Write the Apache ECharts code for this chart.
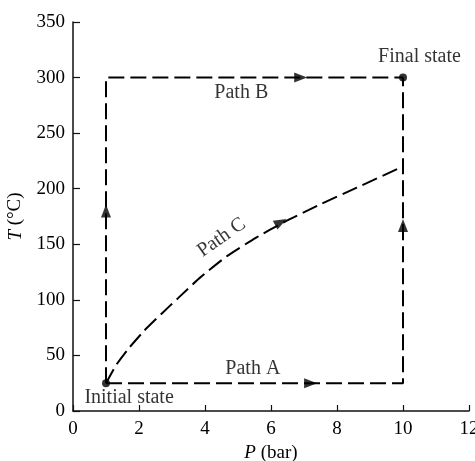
<!DOCTYPE html>
<html>
<head>
<meta charset="utf-8">
<script src="https://cdn.jsdelivr.net/npm/echarts@6/dist/echarts.min.js"></script>
<style>html,body{margin:0;padding:0;background:#fff}#c{width:475px;height:461px}</style>
</head>
<body>
<div id="c"></div>
<script>
// Axis ticks
const xTicks = [0, 2, 4, 6, 8, 10, 12];
const yTicks = [0, 50, 100, 150, 200, 250, 300, 350];

// States
const initialState = [1, 25];
const finalState = [10, 300];

// Path A: constant T, then constant P
const pathA = [[1, 25], [10, 25], [10, 300]];
// Path B: constant P, then constant T
const pathB = [[1, 25], [1, 300], [10, 300]];
// Path C: curved path
const pathC = [[1, 25], [1.3, 41], [1.65, 55], [2.15, 72], [2.7, 88], [3.2, 102],
               [3.85, 120], [4.65, 139], [5.55, 156], [6.4, 170], [7.5, 186],
               [8.6, 201], [10, 220]];

// Direction arrows: [P, T, direction angle in degrees]
const arrows = [[7.2, 25, 0], [10, 167, 90], [1, 180, 90], [6.9, 300, 0], [6.3, 170, 28]];

// Text annotations: [P, T, text, rotation]
const notes = [
  [5.45, 38, 'Path A', 0],
  [5.1, 286, 'Path B', 0],
  [4.5, 156, 'Path C', 35],
  [1.7, 12, 'Initial state', 0],
  [10.5, 319, 'Final state', 0]
];

const FONT = 'Liberation Serif';
const dash = { color: '#000', width: 2, type: [16, 6] };

const chart = echarts.init(document.getElementById('c'), null, { renderer: 'canvas' });
chart.setOption({
  animation: false,
  backgroundColor: '#fff',
  grid: { left: 73, right: 6, top: 22, bottom: 50, containLabel: false, outerBoundsMode: 'none' },
  xAxis: {
    type: 'value', min: xTicks[0], max: xTicks[xTicks.length - 1], interval: 2,
    name: '{i|P} (bar)', nameLocation: 'middle', nameGap: 32,
    nameTextStyle: { fontFamily: FONT, fontSize: 19, color: '#000',
      rich: { i: { fontFamily: FONT, fontStyle: 'italic', fontSize: 19, color: '#000' } } },
    axisLine: { lineStyle: { color: '#111', width: 1.5 } },
    axisTick: { inside: true, length: 6, lineStyle: { color: '#111', width: 1.2 } },
    axisLabel: { fontFamily: FONT, fontSize: 19, color: '#000', margin: 9 },
    splitLine: { show: false }
  },
  yAxis: {
    type: 'value', min: yTicks[0], max: yTicks[yTicks.length - 1], interval: 50,
    name: '{i|T} (°C)', nameLocation: 'middle', nameGap: 48, nameRotate: 90,
    nameTextStyle: { fontFamily: FONT, fontSize: 19, color: '#000',
      rich: { i: { fontFamily: FONT, fontStyle: 'italic', fontSize: 19, color: '#000' } } },
    axisLine: { lineStyle: { color: '#111', width: 1.5 } },
    axisTick: { inside: true, length: 7, lineStyle: { color: '#111', width: 1.2 } },
    axisLabel: { fontFamily: FONT, fontSize: 19, color: '#000', margin: 8 },
    splitLine: { show: false }
  },
  series: [
    { type: 'line', data: pathA, symbol: 'none', lineStyle: dash, z: 2 },
    { type: 'line', data: pathB, symbol: 'none', lineStyle: dash, z: 2 },
    { type: 'line', data: pathC, symbol: 'none', smooth: 0.2, lineStyle: dash, z: 2 },
    {
      type: 'scatter', symbol: 'triangle', z: 4,
      data: arrows.map(a => ({ value: [a[0], a[1]], symbolRotate: a[2] - 90 })),
      symbolSize: [10, 13], itemStyle: { color: '#000' }
    },
    {
      type: 'scatter', symbol: 'circle', symbolSize: 8, z: 5,
      data: [initialState, finalState], itemStyle: { color: '#000' }
    },
    {
      type: 'scatter', symbolSize: 0, z: 6, silent: true,
      data: notes.map(n => ({
        value: [n[0], n[1]],
        label: { show: true, position: 'inside', formatter: n[2], rotate: n[3],
          fontFamily: FONT, fontSize: 20, color: '#000' }
      }))
    }
  ]
});
</script>
</body>
</html>
